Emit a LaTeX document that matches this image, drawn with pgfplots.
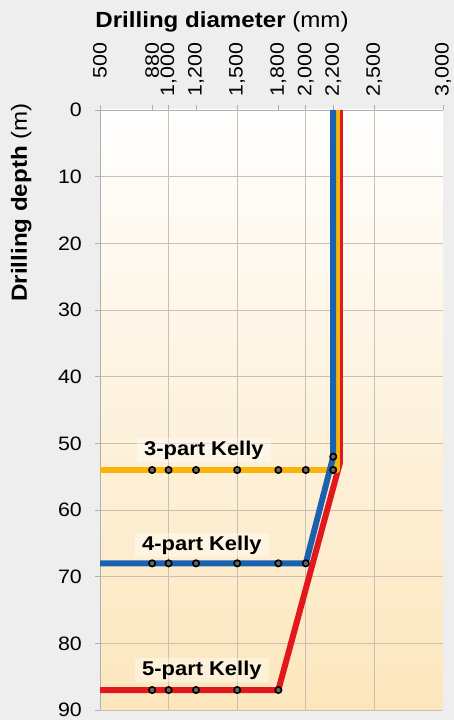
\documentclass[border=0pt]{standalone}
\usepackage{fontspec}
\setmainfont{Liberation Sans}[FakeStretch=1.1]
\usepackage{pgfplots}
\pgfplotsset{compat=1.18}
\definecolor{bg}{RGB}{238,238,238}
\definecolor{peach}{RGB}{252,230,188}
\definecolor{gridc}{RGB}{200,192,178}
\definecolor{axisgray}{RGB}{175,175,175}
\definecolor{kred}{RGB}{226,24,28}
\definecolor{kyellow}{RGB}{247,180,10}
\definecolor{kblue}{RGB}{26,98,176}
\begin{document}
\begin{tikzpicture}[x=1bp,y=1bp]
\fill[bg] (-100,-10) rectangle (354,710);
\begin{axis}[
  at={(0,0)}, anchor=south west,
  scale only axis, width=343bp, height=600bp,
  xmin=500, xmax=3000, ymin=0, ymax=90, y dir=reverse,
  axis x line*=top, axis y line*=left,
  axis line style={draw=axisgray, line width=0.8bp, -},
  xtick={500,880,1000,1200,1500,1800,2000,2200,2500,3000},
  xticklabels={500,880,{1,000},{1,200},{1,500},{1,800},{2,000},{2,200},{2,500},{3,000}},
  ytick={0,10,20,30,40,50,60,70,80,90},
  yticklabels={0,10,20,30,40,50,60,70,80,90},
  extra x ticks={1000,1500,2000,2500},
  extra x tick labels={},
  extra x tick style={grid=major},
  ymajorgrids,
  grid style={draw=gridc, line width=0.8bp},
  tick style={draw=axisgray, line width=0.8bp},
  tick align=outside, major tick length=5bp,
  tick label style={font=\fontsize{19.5}{20}\selectfont},
  xticklabel style={rotate=90, anchor=west, text width=62bp, align=right, inner sep=0pt},
  yticklabel style={anchor=east, inner sep=0pt, xshift=-13bp},
  /pgf/number format/assume math mode=true,
  axis background/.style={shade, top color=white, bottom color=peach},
  line join=round,
]
\addplot[kred, line width=6bp] coordinates {(2248,0) (2248,53) (1800,87) (500,87)};
\addplot[kyellow, line width=6bp] coordinates {(2230,0) (2230,54) (500,54)};
\addplot[kblue, line width=6bp] coordinates {(2200,0) (2200,52) (2000,68) (500,68)};
\addplot[only marks, mark=*, mark size=3.2bp, mark options={draw=black, fill=black!60, line width=1.6bp}]
  coordinates {(880,54) (1000,54) (1200,54) (1500,54) (1800,54) (2000,54) (2200,54) (2200,52)
               (880,68) (1000,68) (1200,68) (1500,68) (1800,68) (2000,68)
               (880,87) (1000,87) (1200,87) (1500,87) (1800,87)};
\tikzset{kbox/.style={fill=white, fill opacity=0.4, text opacity=1, inner xsep=7bp, inner ysep=3bp, anchor=west, font=\bfseries\fontsize{20}{22}\selectfont}}
\node[kbox] at (axis cs:770,51) {3-part Kelly};
\node[kbox] at (axis cs:755,65.25) {4-part Kelly};
\node[kbox] at (axis cs:755,84) {5-part Kelly};
\end{axis}
\node[anchor=base, font=\fontsize{22}{26}\selectfont] at (122,682) {\textbf{Drilling diameter} (mm)};
\node[anchor=base, rotate=90, font=\fontsize{22}{26}\selectfont] at (-73,507.5) {\textbf{Drilling depth} (m)};
\end{tikzpicture}
\end{document}
